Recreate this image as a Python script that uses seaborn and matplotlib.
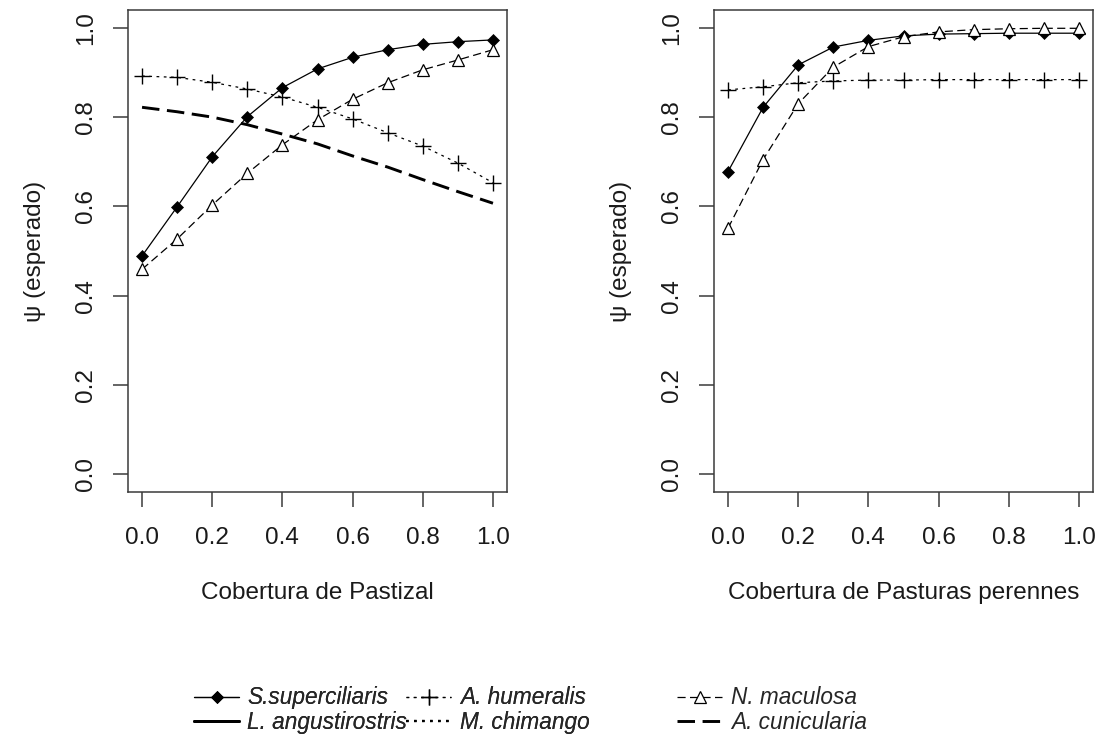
import numpy as np
import pandas as pd
import matplotlib
matplotlib.use("Agg")
import matplotlib.pyplot as plt
from matplotlib.lines import Line2D
import seaborn as sns

# ---------------- data ----------------
x_vals = [0.0, 0.1, 0.2, 0.3, 0.4, 0.5, 0.6, 0.7, 0.8, 0.9, 1.0]

# Panel 1: Cobertura de Pastizal
s_sup_past = [0.489, 0.599, 0.711, 0.801, 0.866, 0.908, 0.934, 0.951, 0.963, 0.969, 0.973]
a_hum_past = [0.892, 0.889, 0.878, 0.863, 0.845, 0.822, 0.796, 0.765, 0.735, 0.697, 0.653]
n_mac_past = [0.459, 0.527, 0.603, 0.674, 0.738, 0.794, 0.840, 0.877, 0.906, 0.928, 0.951]
a_cun_past = [0.822, 0.812, 0.800, 0.783, 0.762, 0.740, 0.713, 0.688, 0.660, 0.633, 0.607]

# Panel 2: Cobertura de Pasturas perennes
s_sup_per = [0.678, 0.822, 0.917, 0.957, 0.972, 0.982, 0.986, 0.987, 0.988, 0.988, 0.988]
a_hum_per = [0.861, 0.868, 0.877, 0.881, 0.883, 0.883, 0.884, 0.884, 0.884, 0.884, 0.884]
n_mac_per = [0.551, 0.705, 0.830, 0.912, 0.958, 0.980, 0.991, 0.996, 0.998, 0.999, 0.999]

species = ["S.superciliaris", "L. angustirostris", "A. humeralis",
           "M. chimango", "N. maculosa", "A. cunicularia"]
x_labels = ["Cobertura de Pastizal", "Cobertura de Pasturas perennes"]
y_label = "\u03c8 (esperado)"
tick_vals = [0.0, 0.2, 0.4, 0.6, 0.8, 1.0]
tick_labels = ["0.0", "0.2", "0.4", "0.6", "0.8", "1.0"]

# ---------------- styles ----------------
sns.set_style("white")
plt.rcParams["font.family"] = ["Liberation Sans", "DejaVu Sans"]

FS = 17.5
BOX = "#3a3a3a"
THIN = 0.9

style = {
    "S.superciliaris": dict(color="black", lw=THIN, linestyle="-", marker="D",
                            markersize=6.3, markerfacecolor="black",
                            markeredgecolor="black", markeredgewidth=0.5),
    "A. humeralis": dict(color="black", lw=THIN, linestyle=(0, (2.2, 3.6)), marker="+",
                         markersize=11, markerfacecolor="black",
                         markeredgecolor="black", markeredgewidth=1.0),
    "N. maculosa": dict(color="black", lw=THIN, linestyle=(0, (6.5, 3.5)), marker="^",
                        markersize=8, markerfacecolor="white",
                        markeredgecolor="black", markeredgewidth=0.9),
    "A. cunicularia": dict(color="black", lw=2.1, linestyle=(0, (6.0, 2.6))),
    "L. angustirostris": dict(color="black", lw=2.1, linestyle="-"),
    "M. chimango": dict(color="black", lw=1.6, linestyle=(0, (1.2, 2.4))),
}

fig = plt.figure(figsize=(11, 7.47), dpi=100)
ax1 = fig.add_axes([128 / 1100, 1 - 492 / 747, 379 / 1100, 482 / 747])
ax2 = fig.add_axes([714 / 1100, 1 - 492 / 747, 379 / 1100, 482 / 747])

panels = [
    (ax1, {"S.superciliaris": s_sup_past, "A. humeralis": a_hum_past,
           "N. maculosa": n_mac_past, "A. cunicularia": a_cun_past}),
    (ax2, {"S.superciliaris": s_sup_per, "A. humeralis": a_hum_per,
           "N. maculosa": n_mac_per}),
]

for i, (ax, series) in enumerate(panels):
    for name, vals in series.items():
        df = pd.DataFrame({"x": x_vals, "y": vals})
        sns.lineplot(data=df, x="x", y="y", ax=ax, legend=False, **style[name])
    ax.set_xlim(-0.04, 1.04)
    ax.set_ylim(-0.04, 1.04)
    ax.set_xticks(tick_vals)
    ax.set_xticklabels(tick_labels)
    ax.set_yticks(tick_vals)
    ax.set_yticklabels(tick_labels)
    for sp in ax.spines.values():
        sp.set_visible(True)
        sp.set_color(BOX)
        sp.set_linewidth(1.1)
    ax.tick_params(axis="both", direction="out", length=11, width=1.1,
                   color=BOX, labelsize=FS, labelcolor="#1a1a1a",
                   left=True, bottom=True)
    ax.tick_params(axis="x", pad=14)
    ax.tick_params(axis="y", pad=11, labelrotation=90)
    for lbl in ax.get_yticklabels():
        lbl.set_va("center")
    ax.set_xlabel(x_labels[i], fontsize=FS, color="#1a1a1a")
    ax.set_ylabel(y_label, fontsize=FS, color="#1a1a1a")
    ax.xaxis.set_label_coords(0.5, -0.2095)
    ax.yaxis.set_label_coords(-0.245, 0.5)
    ax.xaxis.label.set_va("center")
    ax.yaxis.label.set_va("center")
    ax.grid(False)

# ---------------- legend (three columns, R-like) ----------------
cols = [["S.superciliaris", "L. angustirostris"],
        ["A. humeralis", "M. chimango"],
        ["N. maculosa", "A. cunicularia"]]
anchors = [194 / 1100, 406 / 1100, 677 / 1100]
pads = [0.35, 0.4, 0.4]
ycen = 1 - 710 / 747
legs = []
for names, xa, tp in zip(cols, anchors, pads):
    handles = [Line2D([0], [0], **style[n]) for n in names]
    leg = fig.legend(handles, names, loc="center left", bbox_to_anchor=(xa, ycen),
                     frameon=False, ncol=1, handlelength=2.0, handletextpad=tp,
                     labelspacing=0.05, borderpad=0, borderaxespad=0, numpoints=1,
                     prop={"style": "italic", "size": 16.3,
                           "family": ["Liberation Sans", "DejaVu Sans"]})
    legs.append(leg)
for leg in legs[:-1]:
    fig.add_artist(leg)

fig.savefig("out.png", dpi=100, facecolor="white")
